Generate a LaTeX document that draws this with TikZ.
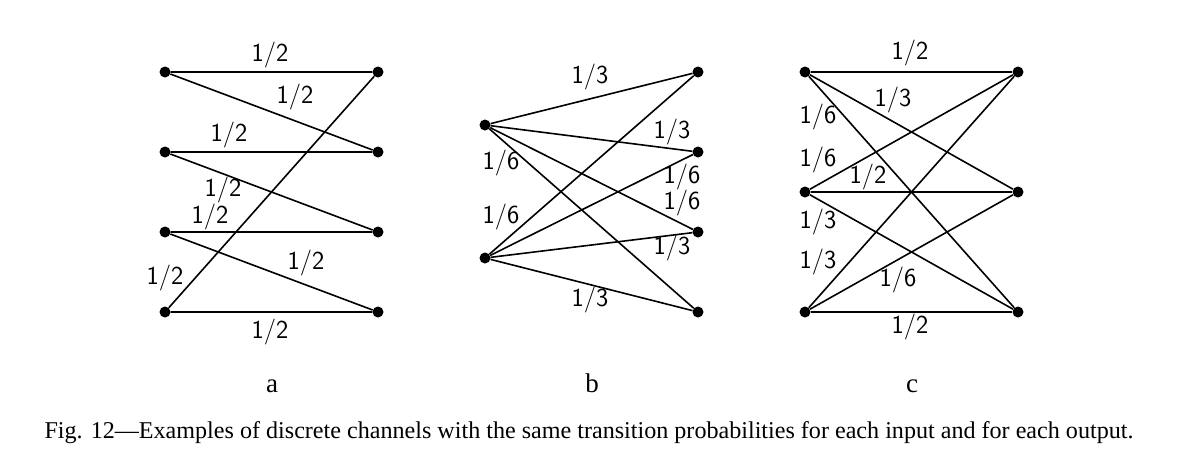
\documentclass[tikz,border=0pt]{standalone}
\usepackage{fontspec}
\setmainfont{Liberation Serif}
\begin{document}
\begin{tikzpicture}[x=1pt,y=-1pt,
  dot/.style={circle,fill=black,inner sep=0pt,minimum size=11pt},
  lab/.style={font=\sffamily\fontsize{26}{26}\selectfont,inner sep=0pt},
  ed/.style={line width=1.6pt},
  sublab/.style={font=\fontsize{27}{27}\selectfont,inner sep=0pt,anchor=base},
  captext/.style={font=\fontsize{24.1}{26}\selectfont,inner sep=0pt,anchor=base}]
\useasboundingbox (0,0) rectangle (1180,472);
% panel a
\foreach \i/\y in {1/72,2/152,3/232,4/312}{
  \node[dot] (aL\i) at (165,\y) {};
  \node[dot] (aR\i) at (378,\y) {};
}
\draw[ed] (aL1)--(aR1) (aL1)--(aR2) (aL2)--(aR2) (aL2)--(aR3)
          (aL3)--(aR3) (aL3)--(aR4) (aL4)--(aR4) (aL4)--(aR1);
\node[lab] (la1) at (270,55) {1/2};
\node[lab] (la2) at (295,97) {1/2};
\node[lab] (la3) at (229,135) {1/2};
\node[lab] (la4) at (223,190) {1/2};
\node[lab] (la5) at (210,217) {1/2};
\node[lab] (la6) at (306,263) {1/2};
\node[lab] (la7) at (165,278) {1/2};
\node[lab] (la8) at (270,332) {1/2};
% panel b
\node[dot] (bL1) at (485,125) {};
\node[dot] (bL2) at (485,258) {};
\foreach \i/\y in {1/72,2/152,3/232,4/312}{
  \node[dot] (bR\i) at (698,\y) {};
}
\foreach \i in {1,2}{
  \foreach \j in {1,2,3,4}{
    \draw[ed] (bL\i)--(bR\j);
  }
}
\node[lab] (lb1) at (590,77) {1/3};
\node[lab] (lb2) at (672,132) {1/3};
\node[lab] (lb3) at (501,163) {1/6};
\node[lab] (lb4) at (682,177) {1/6};
\node[lab] (lb5) at (682,203) {1/6};
\node[lab] (lb6) at (501,217) {1/6};
\node[lab] (lb7) at (672,248) {1/3};
\node[lab] (lb8) at (590,300) {1/3};
% panel c
\foreach \i/\y in {1/72,2/192,3/312}{
  \node[dot] (cL\i) at (805,\y) {};
  \node[dot] (cR\i) at (1018,\y) {};
}
\foreach \i in {1,2,3}{
  \foreach \j in {1,2,3}{
    \draw[ed] (cL\i)--(cR\j);
  }
}
\node[lab] (lc1) at (910,53) {1/2};
\node[lab] (lc2) at (893,100) {1/3};
\node[lab] (lc3) at (818,117) {1/6};
\node[lab] (lc4) at (818,160) {1/6};
\node[lab] (lc5) at (868,177) {1/2};
\node[lab] (lc6) at (818,222) {1/3};
\node[lab] (lc7) at (818,262) {1/3};
\node[lab] (lc8) at (898,280) {1/6};
\node[lab] (lc9) at (910,327) {1/2};
% sub labels
\node[sublab] (sa) at (272,392) {a};
\node[sublab] (sb) at (592,392) {b};
\node[sublab] (sc) at (912,392) {c};
\node[captext] (caption) at (589,438) {Fig. 12\textemdash Examples of discrete channels with the same transition probabilities for each input and for each output.};
\end{tikzpicture}
\end{document}
